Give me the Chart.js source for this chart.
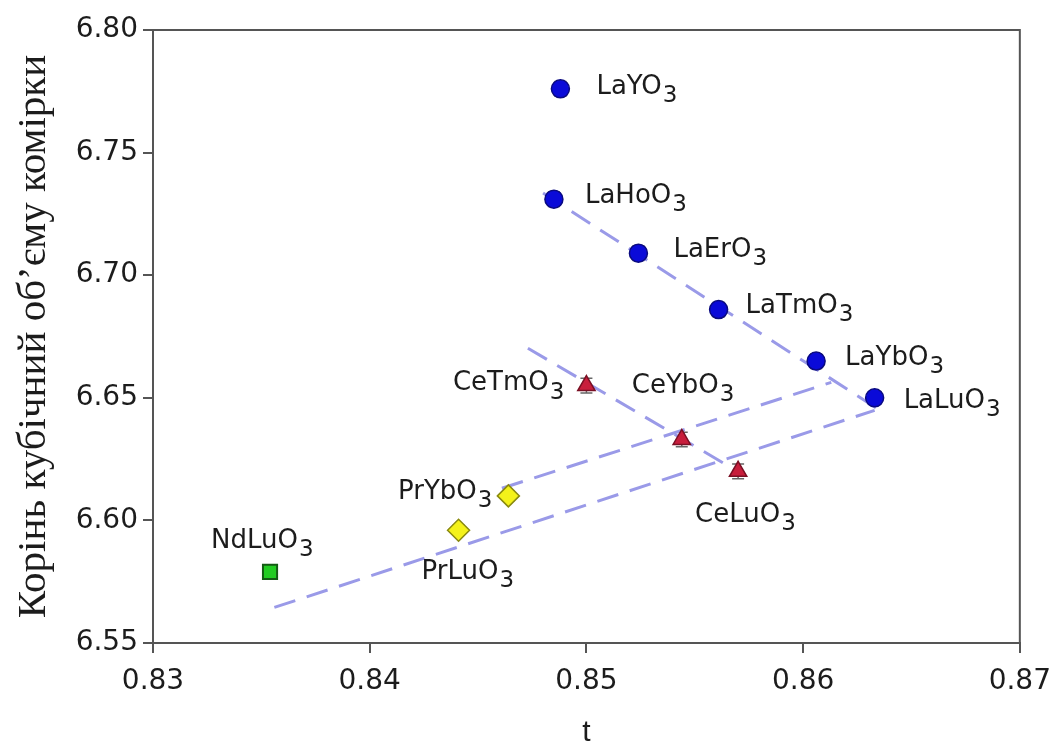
<!DOCTYPE html>
<html>
<head>
<meta charset="utf-8">
<script src="https://cdn.jsdelivr.net/npm/chart.js@4"></script>
<style>
  html, body { margin: 0; padding: 0; background: #fff; }
  #wrap { width: 1063px; height: 753px; }
</style>
</head>
<body>
<div id="wrap"><canvas id="chart"></canvas></div>
<script>
// La series
const laNames = ["LaYO", "LaHoO", "LaErO", "LaTmO", "LaYbO", "LaLuO"];
const laT = [0.8488, 0.8485, 0.8524, 0.8561, 0.8606, 0.8633];
const laA = [6.776, 6.731, 6.709, 6.686, 6.665, 6.650];
const laErr = [0.003, 0.003, 0.003, 0.003, 0.003, 0.002];

// Ce series
const ceNames = ["CeTmO", "CeYbO", "CeLuO"];
const ceT = [0.8500, 0.8544, 0.8570];
const ceA = [6.655, 6.633, 6.620];
const ceErr = [0.003, 0.003, 0.003];

// Pr series
const prNames = ["PrYbO", "PrLuO"];
const prT = [0.8464, 0.8441];
const prA = [6.610, 6.596];
const prErr = [0.002, 0.002];

// Nd
const ndNames = ["NdLuO"];
const ndT = [0.8354];
const ndA = [6.579];
const ndErr = [0];

// dashed trend lines (end points)
const laLineT = [0.8480, 0.8634];
const laLineA = [6.7335, 6.6457];
const ceLineT = [0.8473, 0.8569];
const ceLineA = [6.6702, 6.6204];
const ybLineT = [0.8461, 0.8613];
const ybLineA = [6.6131, 6.6563];
const luLineT = [0.8356, 0.8633];
const luLineA = [6.5645, 6.6449];

const xTicks = [0.83, 0.84, 0.85, 0.86, 0.87];
const yTicks = [6.55, 6.60, 6.65, 6.70, 6.75, 6.80];

function pts(xs, ys) {
  return xs.map((x, i) => ({ x: x, y: ys[i] }));
}

// label placement: [dx, dy, align]
const labelPlace = {
  La: [[36, -2, "left"], [31, -3, "left"], [35, -3, "left"], [27, -3, "left"], [29, -3, "left"], [29, 3, "left"]],
  Ce: [[-22, -2, "right"], [-50, -53, "left"], [-43, 44, "left"]],
  Pr: [[-16, -4, "right"], [-37, 42, "left"]],
  Nd: [[-59, -31, "left"]]
};

const lineStyle = {
  borderColor: "#9a9ae8",
  borderWidth: 3,
  borderDash: [22, 12],
  showLine: true,
  pointRadius: 0,
  fill: false
};

const errorBars = {
  id: "errorBars",
  beforeDatasetsDraw(chart) {
    const ctx = chart.ctx;
    const yScale = chart.scales.y;
    ctx.save();
    ctx.strokeStyle = "#666";
    ctx.lineWidth = 1.5;
    chart.data.datasets.forEach((ds, i) => {
      if (!ds.errors) return;
      const meta = chart.getDatasetMeta(i);
      meta.data.forEach((p, j) => {
        const e = ds.errors[j];
        if (!e) return;
        const y1 = yScale.getPixelForValue(ds.data[j].y + e);
        const y2 = yScale.getPixelForValue(ds.data[j].y - e);
        ctx.beginPath();
        ctx.moveTo(p.x, y1); ctx.lineTo(p.x, y2);
        ctx.moveTo(p.x - 6, y1); ctx.lineTo(p.x + 6, y1);
        ctx.moveTo(p.x - 6, y2); ctx.lineTo(p.x + 6, y2);
        ctx.stroke();
      });
    });
    ctx.restore();
  }
};

const pointLabels = {
  id: "pointLabels",
  afterDatasetsDraw(chart) {
    const ctx = chart.ctx;
    const mainFont = "26px 'DejaVu Sans'";
    const subFont = "23px 'DejaVu Sans'";
    ctx.save();
    ctx.fillStyle = "#1c1c1c";
    ctx.textBaseline = "middle";
    ctx.textAlign = "left";
    chart.data.datasets.forEach((ds, i) => {
      if (!ds.names) return;
      const meta = chart.getDatasetMeta(i);
      const place = labelPlace[ds.group];
      meta.data.forEach((p, j) => {
        const [dx, dy, align] = place[j];
        ctx.font = mainFont;
        const w1 = ctx.measureText(ds.names[j]).width;
        ctx.font = subFont;
        const w2 = ctx.measureText("3").width;
        let x = p.x + dx;
        if (align === "right") x -= (w1 + w2 + 1);
        const y = p.y + dy;
        ctx.font = mainFont;
        ctx.fillText(ds.names[j], x, y);
        ctx.font = subFont;
        ctx.fillText("3", x + w1 + 1, y + 9);
      });
    });
    ctx.restore();
  }
};

const frameBox = {
  id: "frameBox",
  afterDraw(chart) {
    const a = chart.chartArea;
    const ctx = chart.ctx;
    ctx.save();
    ctx.strokeStyle = "#555";
    ctx.lineWidth = 2;
    ctx.strokeRect(a.left, a.top, a.right - a.left, a.bottom - a.top);
    ctx.restore();
  }
};

const ctx = document.getElementById("chart").getContext("2d");
new Chart(ctx, {
  type: "scatter",
  data: {
    datasets: [
      {
        group: "La", names: laNames, errors: laErr,
        data: pts(laT, laA),
        pointStyle: "circle", pointRadius: 9,
        backgroundColor: "#0a0ad8", borderColor: "#0a0a80", borderWidth: 1.5
      },
      {
        group: "Ce", names: ceNames, errors: ceErr,
        data: pts(ceT, ceA),
        pointStyle: "triangle", pointRadius: 10,
        backgroundColor: "#c81e3c", borderColor: "#7a1024", borderWidth: 1.5
      },
      {
        group: "Pr", names: prNames, errors: prErr,
        data: pts(prT, prA),
        pointStyle: "rectRot", pointRadius: 11,
        backgroundColor: "#f4f21a", borderColor: "#8a8a10", borderWidth: 1.5
      },
      {
        group: "Nd", names: ndNames, errors: ndErr,
        data: pts(ndT, ndA),
        pointStyle: "rect", pointRadius: 10,
        backgroundColor: "#22cc22", borderColor: "#145a14", borderWidth: 2
      },
      Object.assign({ data: pts(laLineT, laLineA) }, lineStyle),
      Object.assign({ data: pts(ceLineT, ceLineA) }, lineStyle),
      Object.assign({ data: pts(ybLineT, ybLineA) }, lineStyle),
      Object.assign({ data: pts(luLineT, luLineA) }, lineStyle)
    ]
  },
  options: {
    responsive: true,
    maintainAspectRatio: false,
    animation: false,
    layout: { padding: { top: 30, right: 41, left: 0, bottom: 0 } },
    plugins: {
      legend: { display: false },
      tooltip: { enabled: false }
    },
    scales: {
      x: {
        type: "linear",
        min: 0.83, max: 0.87,
        afterBuildTicks: (s) => { s.ticks = xTicks.map(v => ({ value: v })); },
        afterFit: (s) => { s.height = 110; },
        grid: { drawOnChartArea: false, drawTicks: true, tickLength: 10, color: "#555", lineWidth: 2 },
        border: { display: true, color: "#555", width: 2 },
        ticks: {
          color: "#1c1c1c",
          padding: 12,
          font: { family: "'DejaVu Sans'", size: 28 },
          callback: (v) => v.toFixed(2),
          maxRotation: 0
        },
        title: {
          display: true, text: "t", color: "#1c1c1c",
          font: { family: "'Liberation Sans'", size: 30 },
          padding: { top: 14, bottom: 2 }
        }
      },
      y: {
        type: "linear",
        min: 6.55, max: 6.80,
        afterBuildTicks: (s) => { s.ticks = yTicks.map(v => ({ value: v })); },
        afterFit: (s) => { s.width = 153; },
        grid: { drawOnChartArea: false, drawTicks: true, tickLength: 10, color: "#555", lineWidth: 2 },
        border: { display: true, color: "#555", width: 2 },
        ticks: {
          color: "#1c1c1c",
          padding: 5,
          font: { family: "'DejaVu Sans'", size: 28 },
          callback: (v) => v.toFixed(2)
        },
        title: {
          display: true, text: "Корінь кубічний об’єму комірки", color: "#1c1c1c",
          font: { family: "'Liberation Serif'", size: 41 },
          padding: { top: 10, bottom: 0 }
        }
      }
    }
  },
  plugins: [errorBars, pointLabels, frameBox]
});
</script>
</body>
</html>
